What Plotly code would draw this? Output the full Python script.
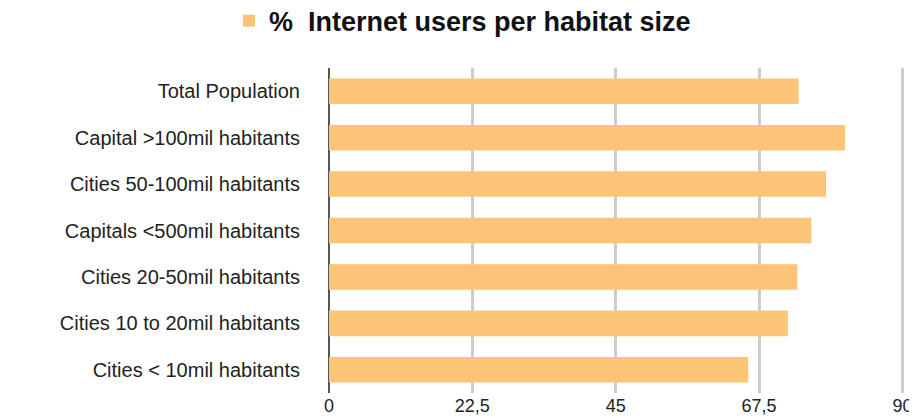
import plotly.graph_objects as go

categories = [
    "Total Population",
    "Capital >100mil habitants",
    "Cities 50-100mil habitants",
    "Capitals <500mil habitants",
    "Cities 20-50mil habitants",
    "Cities 10 to 20mil habitants",
    "Cities < 10mil habitants",
]
values = [73.7, 81.0, 78.0, 75.7, 73.5, 72.0, 65.8]
series_name = "%  Internet users per habitat size"
tick_values = [0, 22.5, 45, 67.5, 90]

FONT = "Liberation Sans, Arial, Helvetica, sans-serif"

fig = go.Figure()
fig.add_trace(go.Bar(
    x=values,
    y=categories,
    orientation="h",
    name=series_name,
    marker=dict(color="#FCC477", line=dict(width=0)),
    showlegend=True,
))

fig.update_layout(
    width=909,
    height=410,
    margin=dict(l=321, r=12, t=60, b=25, autoexpand=False),
    paper_bgcolor="white",
    plot_bgcolor="white",
    separators=",.",
    bargap=0.45,
    font=dict(family=FONT, color="#222222"),
    showlegend=True,
    legend=dict(
        orientation="h",
        xref="container",
        x=0.5, xanchor="center",
        yref="container",
        y=0.968, yanchor="middle",
        font=dict(size=27, family=FONT, color="#111111", weight="bold"),
        bgcolor="rgba(0,0,0,0)",
        itemwidth=30,
    ),
    xaxis=dict(
        range=[0, 90.4],
        tickvals=tick_values,
        showgrid=True,
        gridcolor="#CCCCCC",
        gridwidth=3,
        zeroline=True,
        zerolinecolor="#555555",
        zerolinewidth=2,
        showline=False,
        ticks="",
        tickfont=dict(size=18, family=FONT, color="#222222"),
        fixedrange=True,
    ),
    yaxis=dict(
        categoryorder="array",
        categoryarray=categories,
        autorange="reversed",
        showgrid=False,
        zeroline=False,
        showline=False,
        ticks="",
        ticklabelstandoff=28,
        tickfont=dict(size=20, family=FONT, color="#222222"),
        fixedrange=True,
    ),
)

fig.write_html("out.html")
